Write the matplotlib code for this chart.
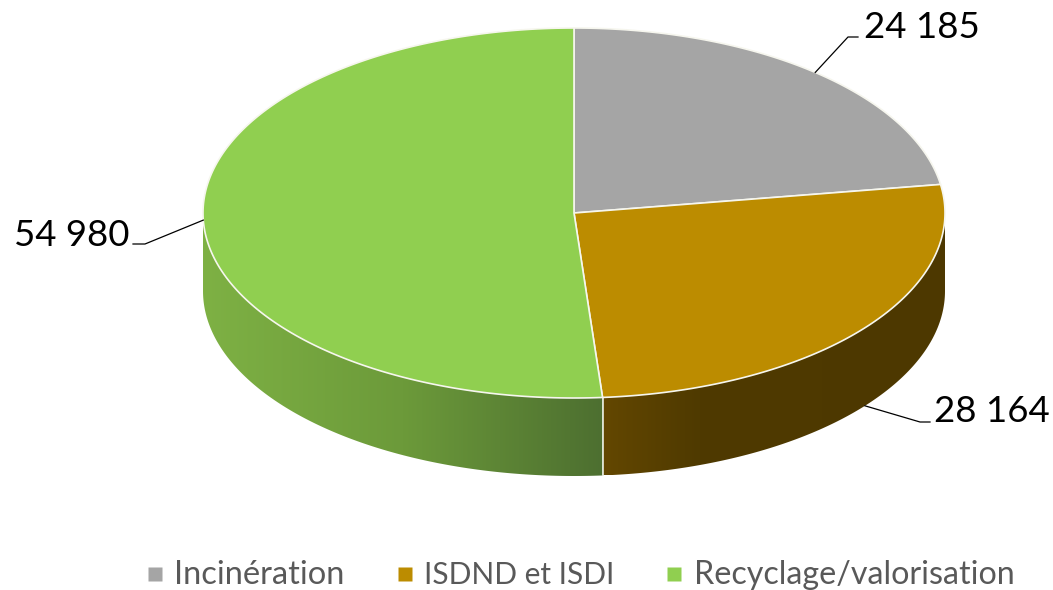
import numpy as np
import matplotlib
matplotlib.use("Agg")
import matplotlib.pyplot as plt
from matplotlib.colors import LinearSegmentedColormap
from matplotlib.patches import Polygon

plt.rcParams['font.family'] = ['Lato', 'DejaVu Sans']

# données
categories = ['Incinération', 'ISDND et ISDI', 'Recyclage/valorisation']
values = [24185, 28164, 54980]
value_labels = ['24 185', '28 164', '54 980']
colors = ['#A5A5A5', '#BC8C00', '#90CF50']

# géométrie du disque, en pixels
cx, cy = 574, 213
rx, ry = 371, 185
depth = 78


def rim(t):
    # t en degrés, 0 en haut, sens horaire
    t = np.radians(t)
    return cx + rx * np.sin(t), cy - ry * np.cos(t)


fig = plt.figure(figsize=(10.53, 5.90), dpi=100)
ax = fig.add_axes([0, 0, 1, 1])

bounds = np.concatenate([[0], np.cumsum(values)]) / sum(values) * 360

# faces latérales avec dégradé
side_ranges = [
    (bounds[2], 270, [(0, '#7EB144'), (0.5, '#6C9A3A'), (1, '#4D6F30')]),
    (90, bounds[2], [(0, '#634700'), (0.28, '#4F3A00'), (1, '#4D3800')]),
]
for t0, t1, stops in side_ranges:
    tt = np.linspace(t0, t1, 200)
    x, y = rim(tt)
    pts = np.concatenate([np.c_[x, y], np.c_[x[::-1], y[::-1] + depth]])
    poly = Polygon(pts, closed=True, fc='none', ec='none')
    ax.add_patch(poly)
    cmap = LinearSegmentedColormap.from_list('side', stops)
    im = ax.imshow(np.linspace(0, 1, 256)[None, :], cmap=cmap, aspect='auto',
                   extent=[x.min(), x.max(), y.max() + depth, y.min()], zorder=1)
    im.set_clip_path(poly)

# séparateur vertical sur la tranche
sx, sy = rim(bounds[2])
ax.plot([sx, sx], [sy, sy + depth], color='#E8EDE0', lw=1.2, zorder=2)

# dessus du disque
for i in range(3):
    tt = np.linspace(bounds[i], bounds[i + 1], 200)
    x, y = rim(tt)
    pts = np.concatenate([[[cx, cy]], np.c_[x, y]])
    ax.add_patch(Polygon(pts, closed=True, fc=colors[i], ec='#F6F6EE', lw=1.2,
                         joinstyle='round', zorder=3))

# étiquettes et lignes de rappel
mids = (bounds[:-1] + bounds[1:]) / 2
elbows = [[(848, 37), (858, 37)], [(920, 422), (930, 422)], [(145, 244), (133, 244)]]
label_pos = [(864, 28, 'left'), (934, 411, 'left'), (130, 235, 'right')]
for i in range(3):
    x, y = rim(mids[i])
    if i == 1:
        y = y + depth
    ax.plot([x, elbows[i][0][0], elbows[i][1][0]], [y, elbows[i][0][1], elbows[i][1][1]],
            color='black', lw=0.9, zorder=4)
    ax.text(label_pos[i][0], label_pos[i][1], value_labels[i], fontsize=26.4, color='black',
            ha=label_pos[i][2], va='center', zorder=5)

# légende
legend_square_x = [155, 405, 674]
legend_text_x = [174, 424, 694]
legend_sizes = [23.5, 21.5, 23.2]
legend_y = 574
for i in range(3):
    ax.plot(legend_square_x[i], legend_y, ls='none', marker='s', ms=10, mfc=colors[i], mec='none')
    ax.text(legend_text_x[i], legend_y + 1, categories[i], fontsize=legend_sizes[i],
            color='#595959', ha='left', va='center')

ax.set_xlim(0, 1053)
ax.set_ylim(590, 0)
ax.axis('off')

fig.savefig('out.png', dpi=100)
